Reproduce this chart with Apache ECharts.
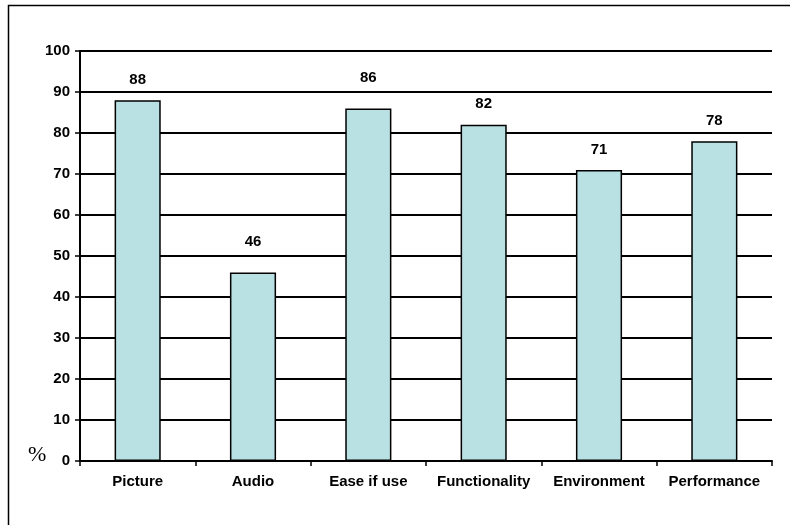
<!DOCTYPE html>
<html>
<head>
<meta charset="utf-8">
<script src="https://cdn.jsdelivr.net/npm/echarts@6/dist/echarts.min.js"></script>
<style>
  html, body { margin: 0; padding: 0; background: #fff; }
  #chart { width: 790px; height: 525px; }
</style>
</head>
<body>
<div id="chart"></div>
<script>
// Survey categories and the share (%) rating each one positively
const categories = ['Picture', 'Audio', 'Ease if use', 'Functionality', 'Environment', 'Performance'];
const percentages = [88, 46, 86, 82, 71, 78];
const yTicks = { min: 0, max: 100, interval: 10 };

const FONT = 'Arial, "Liberation Sans", sans-serif';
const LABEL_GAP = 13;      // px between bar top and its value label
const LABEL_HALF = 7;      // half the label height, px

const chart = echarts.init(document.getElementById('chart'), null, { renderer: 'canvas' });

function buildOption(barData) {
  return {
    animation: false,
    backgroundColor: '#ffffff',
    grid: { left: 80, right: 18, top: 51, bottom: 64, containLabel: false },
    graphic: [
      {
        type: 'rect',
        shape: { x: 8.5, y: 5.5, width: 900, height: 700 },
        style: { fill: 'none', stroke: '#000', lineWidth: 1.5 },
        silent: true
      },
      {
        type: 'text',
        left: 28, top: 444,
        style: { text: '%', font: '22px "Liberation Serif", "DejaVu Serif", serif', fill: '#000' }
      }
    ],
    xAxis: {
      type: 'category',
      data: categories,
      axisLine: { lineStyle: { color: '#000', width: 2 } },
      axisTick: { show: true, length: 5, alignWithLabel: false, lineStyle: { color: '#000', width: 1.5 } },
      axisLabel: { color: '#000', fontWeight: 'bold', fontSize: 15, fontFamily: FONT, margin: 13, interval: 0 },
      splitLine: { show: false }
    },
    yAxis: {
      type: 'value',
      min: yTicks.min, max: yTicks.max, interval: yTicks.interval,
      axisLine: { show: true, lineStyle: { color: '#000', width: 2 } },
      axisTick: { show: true, length: 5, lineStyle: { color: '#000', width: 1.5 } },
      axisLabel: { color: '#000', fontWeight: 'bold', fontSize: 15, fontFamily: FONT, margin: 10 },
      splitLine: { show: true, lineStyle: { color: '#000', width: 1.8 } }
    },
    series: [{
      type: 'bar',
      data: barData,
      barWidth: '40%',
      itemStyle: { color: '#b9e0e3', borderColor: '#000', borderWidth: 1.5 },
      label: {
        show: true, position: 'top', distance: LABEL_GAP,
        color: '#000', fontWeight: 'bold', fontSize: 15, fontFamily: FONT
      }
    }]
  };
}

chart.setOption(buildOption(percentages));

// Lift any value label that would sit on a gridline so it clears the line
const y0 = chart.convertToPixel({ yAxisIndex: 0 }, 0);
const pxPerUnit = y0 - chart.convertToPixel({ yAxisIndex: 0 }, 1);
const gridPx = yTicks.interval * pxPerUnit;
const barItems = percentages.map(function (v) {
  const top = y0 - v * pxPerUnit;
  let center = top - LABEL_GAP - LABEL_HALF;
  const nearestLine = y0 - Math.round((y0 - center) / gridPx) * gridPx;
  let distance = LABEL_GAP;
  if (Math.abs(center - nearestLine) < LABEL_HALF + 3) {
    center = nearestLine - 14;
    distance = top - center - LABEL_HALF;
  }
  return { value: v, label: { distance: distance } };
});
chart.setOption(buildOption(barItems));
</script>
</body>
</html>
